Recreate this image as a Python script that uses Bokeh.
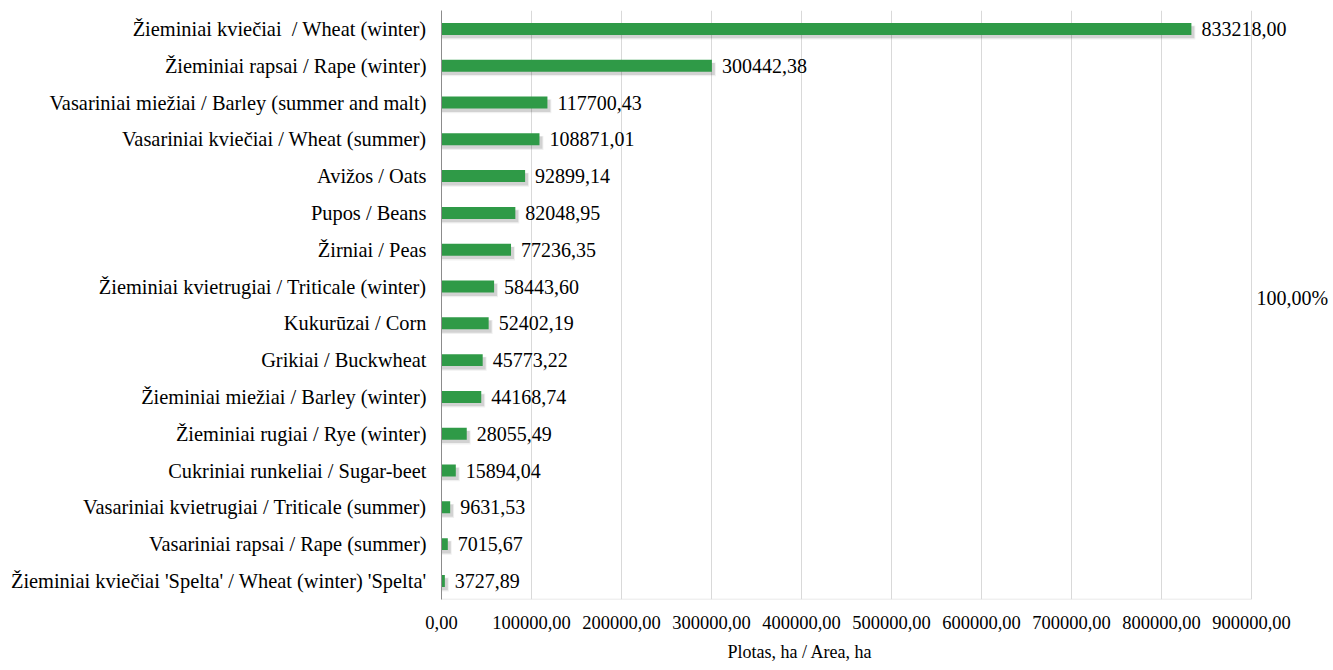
from bokeh.plotting import figure
from bokeh.models import Range1d, FixedTicker, ColumnDataSource, Title
from bokeh.core.properties import value
from bokeh.embed import file_html
from bokeh.resources import INLINE

categories = [
    "Žieminiai kviečiai  / Wheat (winter)",
    "Žieminiai rapsai / Rape (winter)",
    "Vasariniai miežiai / Barley (summer and malt)",
    "Vasariniai kviečiai / Wheat (summer)",
    "Avižos / Oats",
    "Pupos / Beans",
    "Žirniai / Peas",
    "Žieminiai kvietrugiai / Triticale (winter)",
    "Kukurūzai / Corn",
    "Grikiai / Buckwheat",
    "Žieminiai miežiai / Barley (winter)",
    "Žieminiai rugiai / Rye (winter)",
    "Cukriniai runkeliai / Sugar-beet",
    "Vasariniai kvietrugiai / Triticale (summer)",
    "Vasariniai rapsai / Rape (summer)",
    "Žieminiai kviečiai 'Spelta' / Wheat (winter) 'Spelta'",
]
areas = [833218.00, 300442.38, 117700.43, 108871.01, 92899.14, 82048.95,
         77236.35, 58443.60, 52402.19, 45773.22, 44168.74, 28055.49,
         15894.04, 9631.53, 7015.67, 3727.89]
x_ticks = [0, 100000, 200000, 300000, 400000, 500000, 600000, 700000, 800000, 900000]
total_label = ["100,00%"]
x_title = "Plotas, ha / Area, ha"

FONT = "Liberation Serif"
GREEN = "#2F9A47"

n = len(categories)
ypos = [n - 1 - i for i in range(n)]
labels = [f"{v:.2f}".replace(".", ",") for v in areas]
x_max = x_ticks[-1]

src = ColumnDataSource(dict(y=ypos, v=areas, lab=labels,
                            ys1=[y - 0.09 for y in ypos], ys2=[y - 0.1 for y in ypos],
                            r1=[v + 3300 for v in areas], r2=[v + 4400 for v in areas]))

p = figure(width=1333, height=670, output_backend="svg", toolbar_location=None,
           x_range=Range1d(0, 991111), y_range=Range1d(-0.505, n - 0.5),
           min_border_left=441, min_border_right=0, min_border_top=10, min_border_bottom=70)
p.outline_line_color = None
p.background_fill_color = "white"

p.xgrid.ticker = FixedTicker(ticks=x_ticks)
p.xgrid.grid_line_color = "#d9d9d9"
p.ygrid.grid_line_color = None
p.segment(x0=[0], x1=[x_max], y0=[-0.5], y1=[-0.5], line_color="#d9d9d9", line_width=1)

# soft drop shadow
p.hbar(y="ys2", left=0, right="r2", height=0.38, source=src, fill_color="black",
       fill_alpha=0.06, line_color=None)
p.hbar(y="ys1", left=0, right="r1", height=0.33, source=src, fill_color="black",
       fill_alpha=0.12, line_color=None)
# bars
p.hbar(y="y", left=0, right="v", height=0.325, source=src, fill_color=GREEN, line_color=None)

p.text(x="v", y="y", text="lab", source=src, x_offset=10, text_baseline="middle",
       text_align="left", text_font=value(FONT), text_font_size="20px", text_color="black")

p.text(x=[x_max], y=[7.69], text=total_label, x_offset=5, text_baseline="middle",
       text_align="left", text_font=value(FONT), text_font_size="20px", text_color="black")

p.xaxis.ticker = FixedTicker(ticks=x_ticks)
p.xaxis.major_label_overrides = {t: f"{t:.2f}".replace(".", ",") for t in x_ticks}
p.xaxis.major_label_text_font = FONT
p.xaxis.major_label_text_font_size = "18.5px"
p.xaxis.major_label_text_color = "black"
p.xaxis.major_tick_line_color = None
p.xaxis.minor_tick_line_color = None
p.xaxis.major_label_standoff = 10
p.xaxis.axis_line_color = None

p.yaxis.ticker = FixedTicker(ticks=ypos)
p.yaxis.major_label_overrides = {y: c.replace("  ", " \u00a0") for y, c in zip(ypos, categories)}
p.yaxis.major_label_text_font = FONT
p.yaxis.major_label_text_font_size = "20.4px"
p.yaxis.major_label_text_color = "black"
p.yaxis.major_tick_line_color = None
p.yaxis.minor_tick_line_color = None
p.yaxis.major_label_standoff = 9
p.yaxis.axis_line_color = "#8c8c8c"

p.add_layout(Title(text=x_title, align="left", offset=286, standoff=17,
                   text_font=FONT, text_font_size="18px",
                   text_font_style="normal", text_color="black"), "below")

open("out.html", "w").write(file_html(p, INLINE))
